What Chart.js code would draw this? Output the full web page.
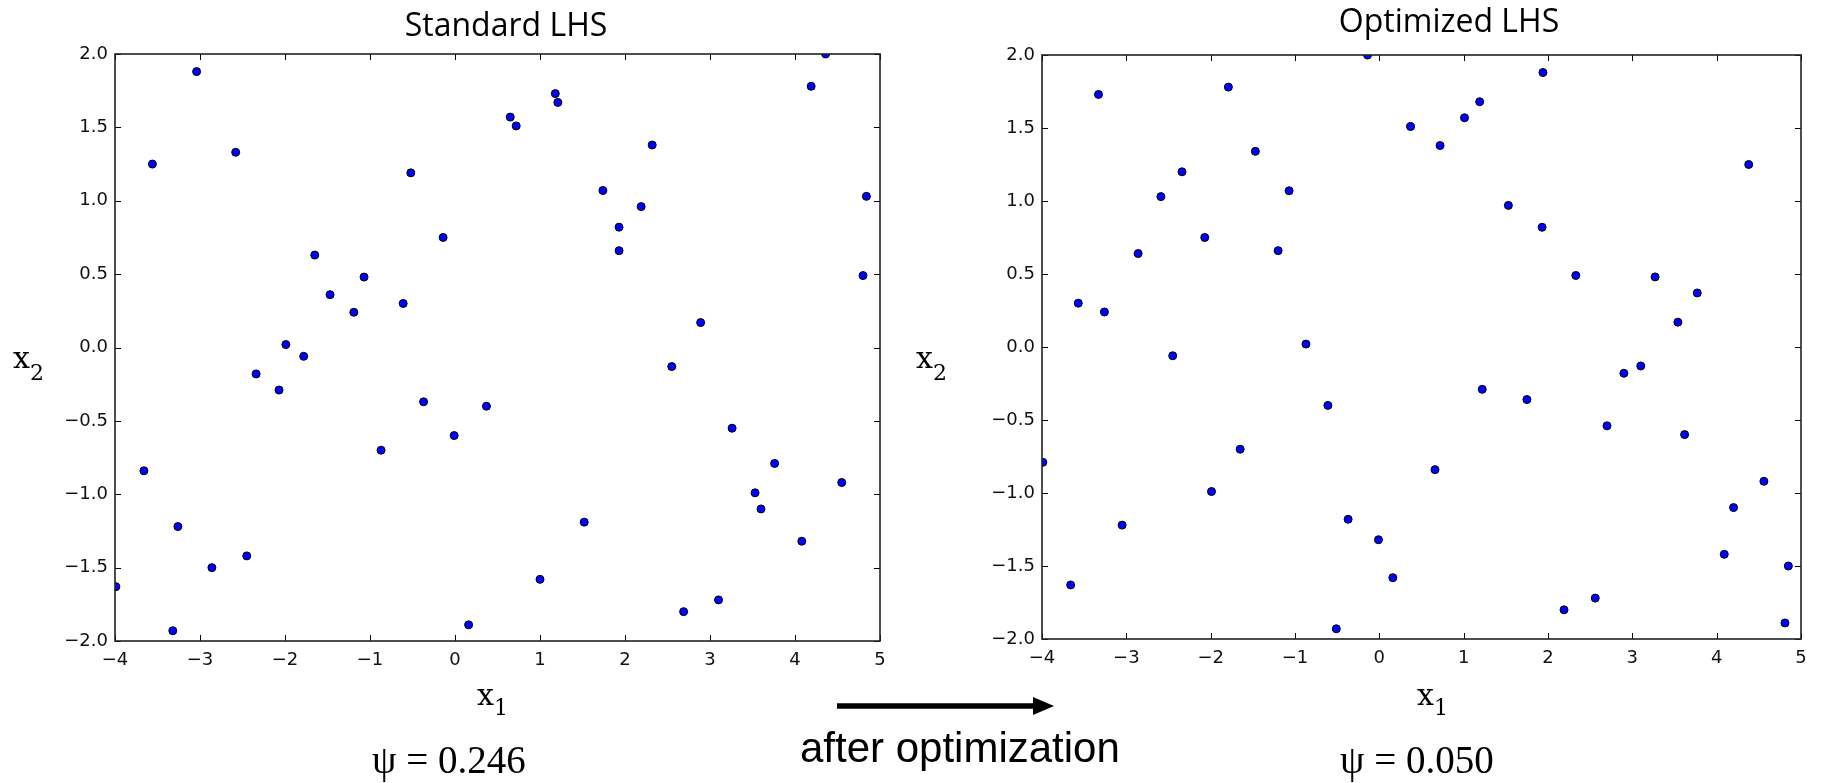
<!DOCTYPE html>
<html>
<head>
<meta charset="utf-8">
<script src="https://cdn.jsdelivr.net/npm/chart.js@4.4.1/dist/chart.umd.min.js"></script>
<style>
  html, body { margin: 0; padding: 0; background: #fff; }
  #page { position: relative; width: 1822px; height: 783px; overflow: hidden; }
  canvas { position: absolute; top: 0; }
  #overlay { position: absolute; left: 0; top: 0; pointer-events: none; }
</style>
</head>
<body>
<div id="page">
  <canvas id="standardChart" width="911" height="700" style="left:0"></canvas>
  <canvas id="optimizedChart" width="911" height="700" style="left:911px"></canvas>
  <svg id="overlay" width="1822" height="783">
    <text x="506" y="36" text-anchor="middle" font-family="Open Sans" font-size="32">Standard LHS</text>
    <text x="1449" y="32" text-anchor="middle" font-family="Open Sans" font-size="32">Optimized LHS</text>

    <text x="13" y="368" font-family="DejaVu Serif" font-size="30">x<tspan font-size="22" dy="12">2</tspan></text>
    <text x="916" y="368" font-family="DejaVu Serif" font-size="30">x<tspan font-size="22" dy="12">2</tspan></text>
    <text x="477" y="705" font-family="DejaVu Serif" font-size="30">x<tspan font-size="22" dy="10">1</tspan></text>
    <text x="1417" y="705" font-family="DejaVu Serif" font-size="30">x<tspan font-size="22" dy="10">1</tspan></text>

    <text x="372" y="773" font-family="Liberation Serif" font-size="39">ψ = 0.246</text>
    <text x="1340" y="773" font-family="Liberation Serif" font-size="39">ψ = 0.050</text>

    <line x1="837" y1="706" x2="1036" y2="706" stroke="#000" stroke-width="5.5"/>
    <polygon points="1033,697 1054,706 1033,715" fill="#000"/>
    <text x="800" y="762" font-family="Liberation Sans" font-size="42">after optimization</text>
  </svg>
</div>
<script>
// sample points
var standardX = [-3.56, -3.04, -2.58, -1.65, -1.47, -1.07, -1.19, -1.99, -1.78, -2.34,
                 -2.07, -0.52, -0.61, -0.14, 0.65, 0.72, 1.18, 1.21, 1.74, 2.32,
                 2.19, 1.93, 1.93, 2.89, 2.55, 4.19, 4.36, 4.84, 4.80, -0.37,
                 0.37, -0.01, -0.87, -3.66, -3.26, -2.45, -2.86, -3.99, -3.32, 0.16,
                 1.00, 1.52, 2.69, 3.10, 3.26, 3.76, 3.53, 3.60, 4.55, 4.08];
var standardY = [1.25, 1.88, 1.33, 0.63, 0.36, 0.48, 0.24, 0.02, -0.06, -0.18,
                 -0.29, 1.19, 0.30, 0.75, 1.57, 1.51, 1.73, 1.67, 1.07, 1.38,
                 0.96, 0.82, 0.66, 0.17, -0.13, 1.78, 2.00, 1.03, 0.49, -0.37,
                 -0.40, -0.60, -0.70, -0.84, -1.22, -1.42, -1.50, -1.63, -1.93, -1.89,
                 -1.58, -1.19, -1.80, -1.72, -0.55, -0.79, -0.99, -1.10, -0.92, -1.32];

var optimizedX = [-3.57, -3.33, -3.26, -2.86, -2.59, -2.34, -2.45, -2.07, -1.79, -1.47,
                  -1.07, -1.20, -0.87, -0.14, 0.37, 0.72, 1.01, 1.19, 1.94, 1.53,
                  1.93, 2.33, 3.27, 3.77, 3.54, 4.38, 2.90, 3.10, 1.22, 1.75,
                  -0.61, 2.70, 3.62, -1.65, -3.99, 0.66, 4.56, -1.99, 4.20, -0.37,
                  -3.05, -0.01, 4.09, 4.85, 0.16, -3.66, 2.56, 2.19, -0.51, 4.81];
var optimizedY = [0.30, 1.73, 0.24, 0.64, 1.03, 1.20, -0.06, 0.75, 1.78, 1.34,
                  1.07, 0.66, 0.02, 2.00, 1.51, 1.38, 1.57, 1.68, 1.88, 0.97,
                  0.82, 0.49, 0.48, 0.37, 0.17, 1.25, -0.18, -0.13, -0.29, -0.36,
                  -0.40, -0.54, -0.60, -0.70, -0.79, -0.84, -0.92, -0.99, -1.10, -1.18,
                  -1.22, -1.32, -1.42, -1.50, -1.58, -1.63, -1.72, -1.80, -1.93, -1.89];

var xRange = [-4, 5];
var yRange = [-2, 2];

var tickFont = { family: 'DejaVu Sans', size: 18 };

function minusSign(s) {
    return s.replace('-', '\u2212');
}

// matplotlib-classic look: closed box with inward ticks on every side
var boxPlugin = {
    id: 'box',
    afterDatasetsDraw: function (chart) {
        var ctx = chart.ctx, a = chart.chartArea;
        var xs = chart.scales.x, ys = chart.scales.y;
        ctx.save();
        ctx.strokeStyle = '#000';
        ctx.lineWidth = 1;
        ctx.beginPath();
        xs.ticks.forEach(function (t) {
            var px = Math.round(xs.getPixelForValue(t.value)) + 0.5;
            ctx.moveTo(px, a.bottom); ctx.lineTo(px, a.bottom - 6);
            ctx.moveTo(px, a.top); ctx.lineTo(px, a.top + 6);
        });
        ys.ticks.forEach(function (t) {
            var py = Math.round(ys.getPixelForValue(t.value)) + 0.5;
            ctx.moveTo(a.left, py); ctx.lineTo(a.left + 6, py);
            ctx.moveTo(a.right, py); ctx.lineTo(a.right - 6, py);
        });
        ctx.stroke();
        ctx.lineWidth = 1.6;
        ctx.strokeStyle = '#222';
        ctx.strokeRect(a.left, a.top, a.right - a.left, a.bottom - a.top);
        ctx.restore();
    }
};

function makeChart(canvasId, xs, ys, pad, yAxisWidth) {
    var ctx = document.getElementById(canvasId).getContext('2d');
    return new Chart(ctx, {
        type: 'scatter',
        data: {
            datasets: [{
                data: xs.map(function (x, i) { return { x: x, y: ys[i] }; }),
                backgroundColor: '#0000ff',
                borderColor: '#000',
                borderWidth: 1,
                pointRadius: 4,
                clip: 0
            }]
        },
        options: {
            responsive: false,
            animation: false,
            devicePixelRatio: 1,
            layout: { padding: pad },
            plugins: { legend: { display: false }, tooltip: { enabled: false } },
            scales: {
                x: {
                    type: 'linear',
                    min: xRange[0],
                    max: xRange[1],
                    afterFit: function (s) { s.height = 40; },
                    grid: { drawOnChartArea: false, drawTicks: false },
                    border: { display: false },
                    ticks: {
                        stepSize: 1,
                        padding: 9,
                        color: '#111',
                        font: tickFont,
                        callback: function (v) { return minusSign(String(v)); }
                    }
                },
                y: {
                    type: 'linear',
                    min: yRange[0],
                    max: yRange[1],
                    afterFit: function (s) { s.width = yAxisWidth; },
                    grid: { drawOnChartArea: false, drawTicks: false },
                    border: { display: false },
                    ticks: {
                        stepSize: 0.5,
                        padding: 7,
                        color: '#111',
                        font: tickFont,
                        callback: function (v) { return minusSign(Number(v).toFixed(1)); }
                    }
                }
            }
        },
        plugins: [boxPlugin]
    });
}

makeChart('standardChart', standardX, standardY, { left: 0, top: 54, right: 31, bottom: 19 }, 115);
makeChart('optimizedChart', optimizedX, optimizedY, { left: 0, top: 55, right: 21, bottom: 21 }, 131);
</script>
</body>
</html>
